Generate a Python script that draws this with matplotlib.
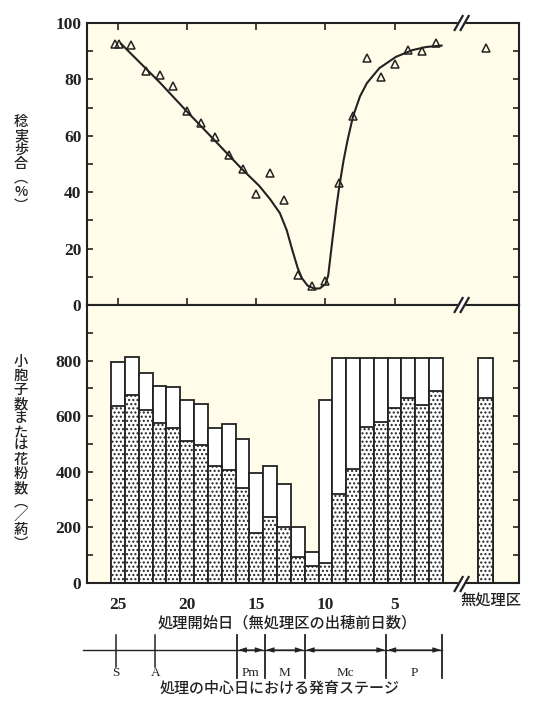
import matplotlib.pyplot as plt
from matplotlib.lines import Line2D
from matplotlib.patches import Polygon
from matplotlib.ticker import MultipleLocator

plt.rcParams['font.family'] = ['Liberation Serif', 'Noto Sans CJK JP']
plt.rcParams['font.weight'] = 'bold'
plt.rcParams['hatch.linewidth'] = 1.0

# 稔実歩合 (%) : triangles
pt_days = [25.2, 24.9, 24.1, 23, 22, 21, 20, 19, 18, 17, 16, 15, 14, 13,
           12, 11, 10, 9, 8, 7, 6, 5, 4, 3, 2]
pt_rate = [92.5, 92.5, 92.3, 83.1, 81.4, 77.7, 68.8, 64.7, 59.7, 53.1, 48.1,
           39.4, 46.9, 37.1, 10.6, 6.7, 8.5, 43.4, 67.0, 87.5, 80.7, 85.3,
           90.4, 90.2, 93.0]
untreated_day = -1.6
untreated_rate = 91.0

# hand-drawn fitted curve, points traced along it
curve_days = [24.8, 22.0, 20.0, 18.0, 16.0, 14.8, 14.0, 13.3, 12.8, 12.4,
              12.0, 11.7, 11.3, 10.8, 10.4, 10.0, 9.8, 9.5, 9.2, 9.0, 8.7,
              8.4, 8.0, 7.5, 7.0, 6.1, 4.9, 3.7, 2.7, 1.6]
curve_rate = [92.7, 79.0, 68.5, 58.3, 48.0, 42.3, 37.5, 32.6, 26.5, 19.5,
              13.0, 9.5, 6.9, 5.8, 5.9, 7.5, 10.5, 23.0, 35.0, 42.0, 51.0,
              58.5, 67.0, 74.0, 78.7, 84.0, 88.0, 90.4, 91.5, 92.0]

# 小胞子数または花粉数 (/葯)
bar_days = list(range(25, 1, -1))
total = [794, 812, 756, 707, 704, 659, 645, 559, 571, 517, 395, 421, 356,
         203, 111, 660, 810, 810, 810, 810, 810, 810, 810, 810]
pollen = [635, 675, 621, 575, 556, 509, 497, 421, 405, 343, 181, 236, 203,
          93, 60, 72, 319, 410, 561, 579, 630, 665, 639, 692]
untreated_total = 810
untreated_pollen = 665

# 発育ステージ
mark_names = ['S', 'A']
mark_days = [25.15, 22.3]
stage_names = ['Pm', 'M', 'Mc', 'P']
stage_edges = [16.4, 14.4, 11.5, 5.6, 1.55]

xlim = (27.25, -4.0)
ink = '#222222'
bg = '#fffce9'
jp = ['Noto Sans CJK JP', 'DejaVu Sans']

fig = plt.figure(figsize=(5.33, 7.02), dpi=100)
L, W = 87 / 533, 432 / 533
ax1 = fig.add_axes([L, 1 - 305 / 702, W, 282 / 702])
ax2 = fig.add_axes([L, 1 - 583 / 702, W, 278 / 702])

for ax in (ax1, ax2):
    ax.set_facecolor(bg)
    ax.set_xlim(xlim)
    for s in ax.spines.values():
        s.set_linewidth(1.5)
        s.set_color(ink)
    ax.tick_params(axis='y', which='both', direction='in', left=True,
                   right=True, width=1.2, length=4, color=ink,
                   labelsize=12.5, pad=4, labelcolor=ink)

# upper panel
ax1.plot(curve_days, curve_rate, color=ink, lw=1.5)
ax1.plot(pt_days + [untreated_day], pt_rate + [untreated_rate], '^',
         mfc='none', mec=ink, ms=5.5, mew=1.1, clip_on=False)
ax1.set_ylim(0, 100)
ax1.yaxis.set_major_locator(MultipleLocator(20))
ax1.yaxis.set_minor_locator(MultipleLocator(10))
ax1.set_xticks([25, 20, 15, 10, 5])
ax1.tick_params(axis='x', direction='in', top=True, bottom=True, length=5,
                width=1.2, color=ink, labelbottom=False)

# lower panel
ax2.bar(bar_days, total, width=1.0, color='white', edgecolor=ink, lw=1.3)
ax2.bar(bar_days, pollen, width=1.0, facecolor='white', edgecolor=ink,
        lw=1.3, hatch='....')
ax2.bar(untreated_day, untreated_total, width=1.1, color='white',
        edgecolor=ink, lw=1.3)
ax2.bar(untreated_day, untreated_pollen, width=1.1, facecolor='white',
        edgecolor=ink, lw=1.3, hatch='....')
ax2.set_ylim(0, 1000)
ax2.set_yticks([0, 200, 400, 600, 800])
ax2.yaxis.set_minor_locator(MultipleLocator(100))
ax2.set_xticks([25, 20, 15, 10, 5])
ax2.set_xticklabels(['25', '20', '15', '10', '5'])
ax2.tick_params(axis='x', length=0, labelsize=12.5, pad=10, labelcolor=ink)


# axis break marks "//"
def brk(ypx, xd=0.15):
    xf = L + W * (xlim[0] - xd) / (xlim[0] - xlim[1])
    yf = 1 - ypx / 702
    dx, dy = 1 / 533, 1 / 702
    gap = Polygon([(xf - 7 * dx, yf - 7 * dy), (xf + 1 * dx, yf - 7 * dy),
                   (xf + 7 * dx, yf + 7 * dy), (xf - 1 * dx, yf + 7 * dy)],
                  closed=True, transform=fig.transFigure, fc='white',
                  ec='none', zorder=10)
    fig.add_artist(gap)
    for c in (-3, 3):
        fig.add_artist(Line2D([xf + (c - 4) * dx, xf + (c + 4) * dx],
                              [yf - 7 * dy, yf + 7 * dy],
                              transform=fig.transFigure, color=ink, lw=1.6,
                              zorder=11))


for ypx in (23, 305, 584):
    brk(ypx)

# axis labels
fig.text(21 / 533, 1 - 164 / 702, '\n'.join('稔実歩合') + '\n︵\n%\n︶',
         ha='center', va='center', fontsize=10.2, linespacing=1.0,
         family=jp, weight='medium', color=ink)
fig.text(21 / 533, 1 - 453 / 702, '\n'.join('小胞子数または花粉数') +
         '\n︵\n／\n葯\n︶', ha='center', va='center', fontsize=10.3,
         linespacing=1.0, family=jp, weight='medium', color=ink)
fig.text(491 / 533, 1 - 601 / 702, '無処理区', ha='center', va='center',
         fontsize=11, family=jp, weight='medium', color=ink)
fig.text(287 / 533, 1 - 623 / 702, '処理開始日（無処理区の出穂前日数）',
         ha='center', va='center', fontsize=11, family=jp, weight='medium',
         color=ink)
fig.text(280 / 533, 1 - 688 / 702, '処理の中心日における発育ステージ',
         ha='center', va='center', fontsize=10.8, family=jp,
         weight='medium', color=ink)

# stage axis
ax3 = fig.add_axes([L, 0, W, 84 / 702])
ax3.set_xlim(xlim)
ax3.set_ylim(702, 618)
ax3.axis('off')
ax3.plot([27.54, stage_edges[-1]], [650, 650], color=ink, lw=1.0,
         clip_on=False)
for name, d in zip(mark_names, mark_days):
    ax3.plot([d, d], [635, 667], color=ink, lw=1.1, clip_on=False)
    ax3.text(d, 673, name, ha='center', va='center', fontsize=9.5,
             color=ink, weight='normal')
for d in stage_edges:
    ax3.plot([d, d], [635, 678], color=ink, lw=1.3, clip_on=False)
for name, a, b in zip(stage_names, stage_edges[:-1], stage_edges[1:]):
    ax3.annotate('', xy=(b, 650), xytext=(a, 650),
                 arrowprops=dict(arrowstyle='<|-|>,head_length=0.45,'
                                 'head_width=0.15', color=ink, lw=0.8,
                                 shrinkA=1, shrinkB=1))
    ax3.text((a + b) / 2, 673, name, ha='center', va='center',
             fontsize=9.5, color=ink, weight='normal')

fig.savefig('out.png', dpi=100)
